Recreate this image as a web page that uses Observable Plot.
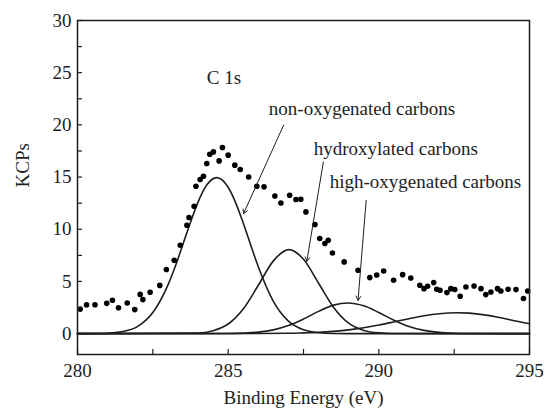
<!DOCTYPE html>
<html>
<head>
<meta charset="utf-8">
<script src="https://cdn.jsdelivr.net/npm/d3@7"></script>
<script src="https://cdn.jsdelivr.net/npm/@observablehq/plot@0.6"></script>
<style>
  html, body { margin: 0; padding: 0; background: #fff; }
  #chart svg, #chart svg text { font-family: "Liberation Serif", "DejaVu Serif", serif !important; }
</style>
</head>
<body>
<div id="chart"></div>
<script>
// Measured spectrum (dots)
const energy = [280.09,280.30,280.58,280.97,281.16,281.36,281.65,281.90,282.08,282.17,282.41,282.73,282.95,283.21,283.41,283.63,283.70,283.87,283.93,284.07,284.18,284.29,284.39,284.51,284.70,284.81,285.00,285.22,285.40,285.68,285.95,286.19,286.55,286.75,287.04,287.25,287.41,287.58,287.88,288.04,288.21,288.32,288.46,288.85,289.31,289.70,289.93,290.16,290.49,290.79,291.06,291.36,291.50,291.62,291.82,291.92,292.03,292.26,292.39,292.52,292.70,292.89,293.16,293.39,293.55,293.72,293.94,294.05,294.29,294.55,294.80,294.94];
const counts = [2.35,2.75,2.76,2.90,3.20,2.48,2.93,2.30,3.76,3.26,3.96,4.62,6.14,7.03,8.47,10.38,11.12,12.21,14.12,14.77,15.08,16.30,17.19,17.41,16.55,17.83,17.10,16.14,15.72,15.00,14.12,14.06,13.19,12.52,13.26,12.85,12.88,11.66,10.45,9.11,8.63,8.95,7.73,6.87,6.07,5.37,5.62,6.00,5.11,5.65,5.33,4.63,4.31,4.54,4.89,4.25,4.15,3.93,4.31,4.22,3.58,4.47,4.57,4.31,3.74,3.99,4.31,4.08,4.25,4.22,3.36,4.08];

// Fitted component curves
const c1x = [280,281,281.5,282,282.5,283,283.25,283.5,283.75,284,284.3,284.62,285,285.25,285.5,285.75,286,286.5,287,287.5,288,288.5,289,295];
const c1y = [0,0.04,0.20,0.70,2.02,4.65,6.48,8.56,10.67,12.60,14.28,14.95,14.02,12.53,10.60,8.47,6.41,3.10,1.20,0.37,0.09,0.01,0,0];
const c2x = [280,284,284.5,285,285.5,286,286.5,287.02,287.5,288,288.5,289,289.5,290,290.5,295];
const c2y = [0,0.06,0.28,0.92,2.36,4.63,6.97,8.05,7.12,4.83,2.51,1.00,0.31,0.07,0.01,0];
const c3x = [280,285,285.5,286,286.5,287,287.5,288,288.5,288.96,289.5,290,290.5,291,291.5,292,292.5,293,295];
const c3y = [0,0.01,0.05,0.14,0.36,0.77,1.40,2.13,2.73,2.94,2.66,2.02,1.29,0.69,0.31,0.12,0.04,0.01,0];
const c4x = [280,284,286,287,287.5,288,288.5,289,289.5,290,290.5,291,291.5,292,292.6,293,293.5,294,294.5,295];
const c4y = [0,0,0.01,0.03,0.07,0.12,0.22,0.36,0.56,0.82,1.12,1.43,1.71,1.91,2.00,1.96,1.80,1.55,1.24,0.94];

// Annotations
const noteText = ["C 1s","non-oxygenated carbons","hydroxylated carbons","high-oxygenated carbons"];
const noteX = [284.29,286.35,287.84,288.37];
const noteY = [24.5,21.5,17.67,14.5];
const arrowX1 = [286.84,288.16,289.58];
const arrowY1 = [19.97,16.45,12.76];
const arrowX2 = [285.51,287.61,289.31];
const arrowY2 = [11.5,6.93,3.19];

// Ticks
const xMajor = [280,285,290,295];
const xAll = [280,282.5,285,287.5,290,292.5,295];
const yMajor = [0,5,10,15,20,25,30];
const yAll = [0,2.5,5,7.5,10,12.5,15,17.5,20,22.5,25,27.5,30];

const zip = (xs, ys) => xs.map((x, i) => ({x, y: ys[i]}));
const dots = zip(energy, counts);
const curves = [c1x, c2x, c3x, c4x].map((xs, k) => zip(xs, [c1y, c2y, c3y, c4y][k]));
const notes = noteText.map((t, i) => ({t, x: noteX[i], y: noteY[i]}));
const arrows = arrowX1.map((x1, i) => ({x1, y1: arrowY1[i], x2: arrowX2[i], y2: arrowY2[i]}));

const ink = "#1e1e1e";
const chart = Plot.plot({
  width: 545,
  height: 413,
  marginLeft: 77,
  marginRight: 16,
  marginTop: 20,
  marginBottom: 59,
  x: {domain: [280, 295]},
  y: {domain: [-2, 30]},
  style: {fontSize: "19px", color: ink, background: "#fff"},
  marks: [
    ...curves.map(c => Plot.line(c, {x: "x", y: "y", curve: "monotone-x", stroke: ink, strokeWidth: 1.6})),
    Plot.dot(dots, {x: "x", y: "y", r: 2.8, fill: "#000", stroke: "none"}),
    Plot.arrow(arrows, {x1: "x1", y1: "y1", x2: "x2", y2: "y2", stroke: ink, strokeWidth: 1, headLength: 7}),
    Plot.text(notes, {x: "x", y: "y", text: "t", textAnchor: "start", fill: ink}),
    Plot.axisX(xAll, {tickSize: -5, tickFormat: () => "", label: null, stroke: ink, strokeWidth: 1.2}),
    Plot.axisX(xMajor, {tickSize: 0, tickPadding: 9, label: null, fill: ink}),
    Plot.axisY(yAll, {tickSize: -5, tickFormat: () => "", label: null, stroke: ink, strokeWidth: 1.2}),
    Plot.axisY(yMajor, {tickSize: 0, tickPadding: 6, label: null, fill: ink}),
    Plot.text(["Binding Energy (eV)"], {frameAnchor: "bottom", dy: 49.5, fill: ink}),
    Plot.text(["KCPs"], {frameAnchor: "left", dx: -55, rotate: -90, fill: ink}),
    Plot.frame({stroke: ink, strokeWidth: 1.5})
  ]
});
document.getElementById("chart").appendChild(chart);
</script>
</body>
</html>
